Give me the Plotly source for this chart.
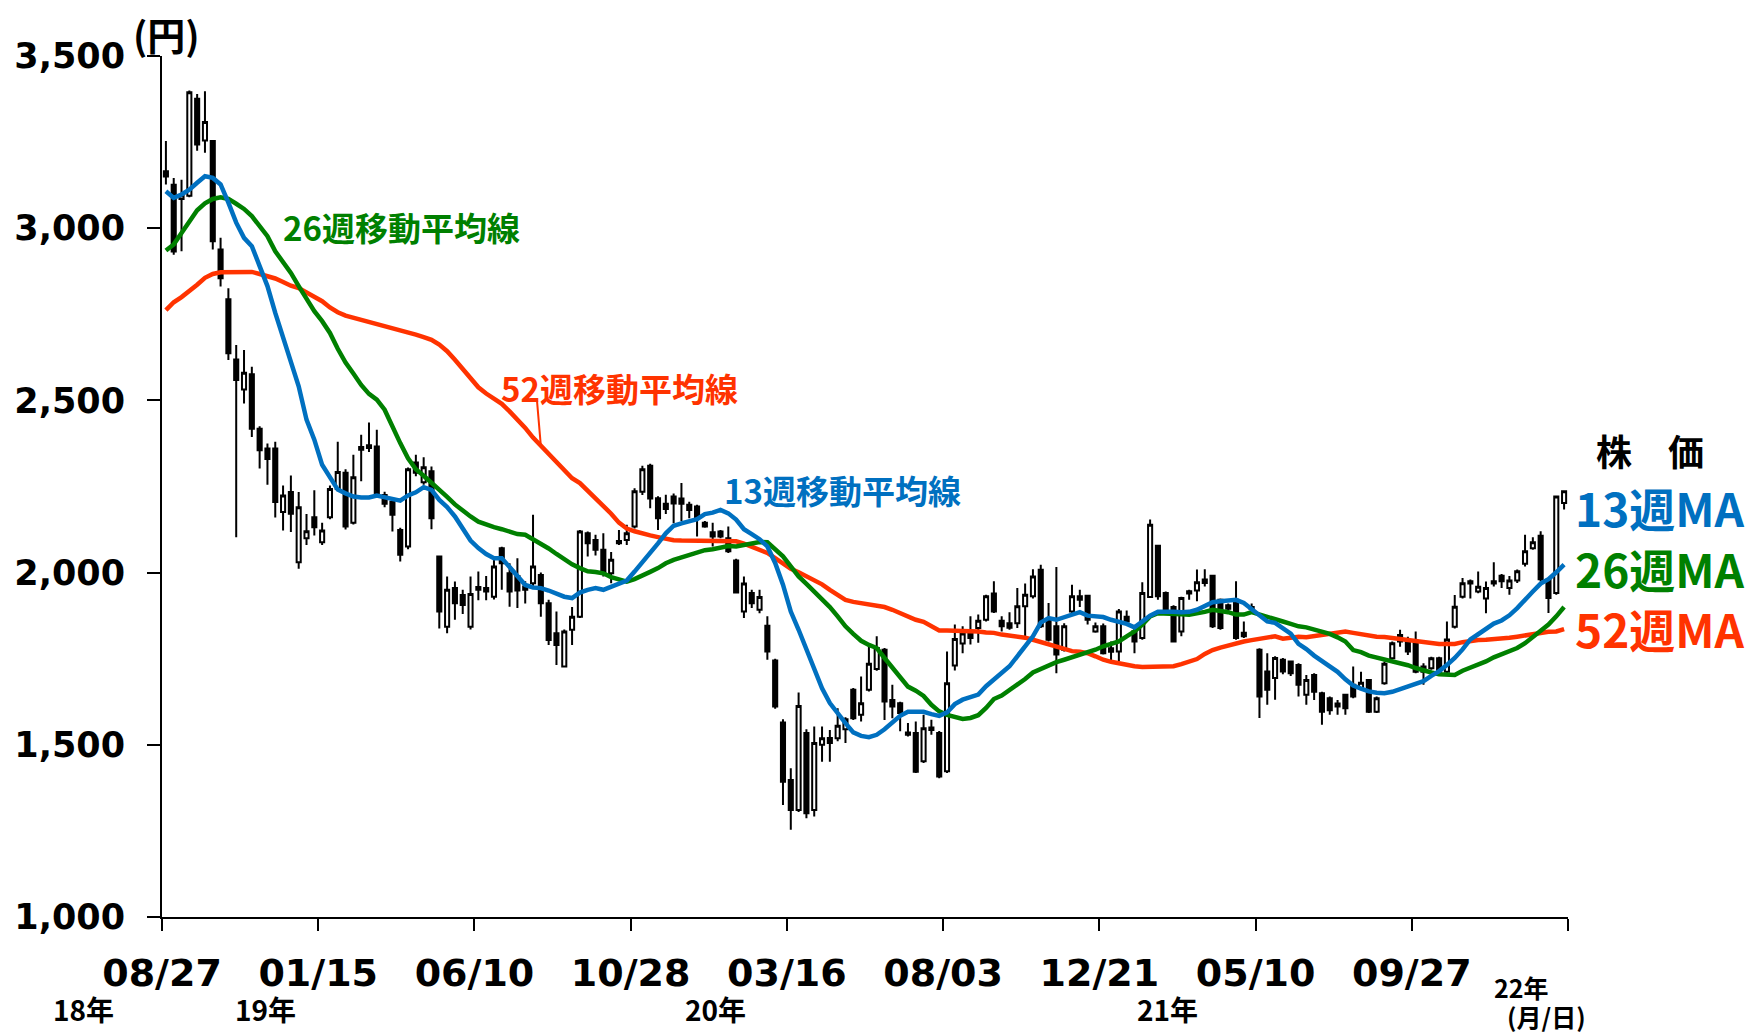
import plotly.graph_objects as go

# ---------------- data ----------------
tick_labels = ["08/27", "01/15", "06/10", "10/28", "03/16", "08/03", "12/21", "05/10", "09/27", ""]
y_ticks = [1000, 1500, 2000, 2500, 3000, 3500]

opens = [3165, 3126, 3085, 3094, 3376, 3255, 3253, 2938, 2794, 2619,
         2532, 2576, 2418, 2360, 2360, 2176, 2234, 2030, 2100, 2161,
         2088, 2161, 2243, 2290, 2145, 2365, 2370, 2366, 2225, 2206,
         2124, 2076, 2320, 2262, 2294, 2047, 1843, 1955, 1935, 1843,
         1958, 1955, 1930, 2071, 1998, 1990, 1960, 1969, 1993, 1911,
         1824, 1727, 1834, 1872, 2114, 2095, 2066, 1998, 2092, 2095,
         2134, 2235, 2310, 2216, 2200, 2221, 2215, 2197, 2192, 2145,
         2117, 2119, 2100, 2035, 1887, 1941, 1892, 1846, 1745, 1565,
         1398, 1311, 1534, 1311, 1500, 1520, 1519, 1545, 1660, 1587,
         1660, 1720, 1776, 1630, 1621, 1536, 1534, 1452, 1550, 1534,
         1423, 1730, 1794, 1828, 1839, 1863, 1939, 1860, 1853, 1853,
         1902, 1931, 2008, 1863, 1844, 1776, 1887, 1931, 1933, 1829,
         1844, 1780, 1771, 1872, 1830, 1810, 1929, 2078, 1941, 1900,
         1829, 1946, 1948, 1980, 1991, 1921, 1905, 1921, 1825, 1900,
         1776, 1713, 1694, 1747, 1742, 1732, 1645, 1703, 1650, 1635,
         1620, 1645, 1674, 1665, 1688, 1596, 1679, 1751, 1800, 1800,
         1795, 1727, 1722, 1751, 1712, 1843, 1930, 1975, 1945, 1925,
         1975, 1991, 1955, 1977, 2026, 2071, 2107, 1979, 1941, 2202]
highs = [3253, 3146, 3141, 3400, 3390, 3398, 3256, 2972, 2826, 2661,
         2646, 2598, 2425, 2375, 2380, 2253, 2282, 2234, 2170, 2239,
         2145, 2253, 2380, 2300, 2342, 2400, 2436, 2415, 2235, 2210,
         2130, 2305, 2342, 2335, 2308, 2050, 1989, 1974, 1950, 1989,
         2003, 1990, 2042, 2075, 2027, 2042, 1975, 2168, 2000, 1921,
         1887, 1835, 1900, 2124, 2119, 2110, 2114, 2060, 2124, 2139,
         2245, 2310, 2316, 2222, 2226, 2230, 2260, 2206, 2197, 2150,
         2145, 2124, 2134, 2040, 1989, 1950, 1950, 1873, 1750, 1574,
         1432, 1652, 1545, 1553, 1553, 1543, 1606, 1580, 1665, 1698,
         1786, 1815, 1781, 1674, 1625, 1563, 1568, 1587, 1573, 1540,
         1771, 1849, 1844, 1873, 1878, 1936, 1975, 1873, 1885, 1955,
         1968, 2010, 2023, 1912, 2016, 1853, 1965, 1950, 1935, 1855,
         1852, 1800, 1894, 1890, 1840, 1972, 2154, 2081, 1945, 1905,
         1930, 1950, 2009, 2010, 1994, 1925, 1910, 1975, 1858, 1910,
         1780, 1766, 1757, 1752, 1745, 1737, 1703, 1708, 1654, 1640,
         1630, 1648, 1727, 1712, 1690, 1640, 1742, 1800, 1834, 1814,
         1829, 1737, 1756, 1756, 1858, 1935, 1984, 1980, 2003, 1974,
         2030, 1996, 1990, 2009, 2110, 2103, 2120, 1984, 2223, 2239]
lows = [3127, 2923, 2933, 3090, 3225, 3219, 2938, 2831, 2617, 2103,
        2491, 2394, 2302, 2255, 2160, 2122, 2118, 2011, 2080, 2108,
        2080, 2155, 2238, 2125, 2140, 2265, 2350, 2225, 2190, 2119,
        2032, 2068, 2280, 2255, 2126, 1838, 1824, 1863, 1880, 1835,
        1920, 1920, 1922, 1950, 1901, 1897, 1910, 1960, 1872, 1790,
        1732, 1725, 1790, 1868, 2047, 2050, 1989, 1969, 2080, 2080,
        2128, 2225, 2187, 2124, 2170, 2143, 2150, 2158, 2105, 2130,
        2076, 2100, 2057, 1940, 1868, 1897, 1882, 1747, 1605, 1325,
        1253, 1305, 1287, 1292, 1451, 1451, 1510, 1505, 1572, 1568,
        1655, 1715, 1572, 1577, 1539, 1524, 1418, 1447, 1529, 1403,
        1418, 1716, 1766, 1791, 1796, 1858, 1883, 1829, 1834, 1839,
        1815, 1925, 1839, 1800, 1708, 1771, 1883, 1900, 1849, 1825,
        1762, 1745, 1742, 1850, 1766, 1805, 1926, 1921, 1887, 1798,
        1815, 1921, 1917, 1960, 1839, 1834, 1880, 1805, 1810, 1890,
        1578, 1616, 1631, 1705, 1700, 1640, 1616, 1630, 1558, 1587,
        1587, 1587, 1635, 1660, 1592, 1592, 1674, 1748, 1785, 1761,
        1708, 1674, 1718, 1708, 1708, 1838, 1925, 1925, 1940, 1882,
        1960, 1955, 1936, 1970, 2018, 2066, 1974, 1883, 1936, 2183]
closes = [3150, 2932, 3095, 3395, 3243, 3308, 2962, 2855, 2637, 2559,
          2580, 2418, 2355, 2330, 2205, 2224, 2171, 2190, 2120, 2132,
          2122, 2243, 2292, 2134, 2277, 2357, 2362, 2231, 2200, 2168,
          2052, 2300, 2290, 2306, 2158, 1887, 1950, 1911, 1906, 1938,
          1950, 1945, 2018, 2027, 1945, 1948, 1950, 2018, 1911, 1804,
          1790, 1829, 1872, 2119, 2085, 2066, 1998, 2037, 2085, 2114,
          2236, 2300, 2215, 2158, 2185, 2201, 2200, 2182, 2158, 2134,
          2105, 2105, 2062, 1942, 1968, 1911, 1929, 1771, 1611, 1393,
          1311, 1613, 1301, 1505, 1519, 1505, 1555, 1574, 1577, 1621,
          1735, 1781, 1626, 1611, 1592, 1529, 1422, 1548, 1543, 1408,
          1679, 1807, 1823, 1810, 1860, 1931, 1887, 1844, 1840, 1902,
          1936, 1989, 1844, 1805, 1762, 1844, 1931, 1921, 1863, 1844,
          1766, 1770, 1887, 1858, 1800, 1941, 2139, 1931, 1892, 1800,
          1926, 1939, 1972, 1970, 1844, 1839, 1895, 1810, 1815, 1895,
          1640, 1660, 1752, 1713, 1708, 1674, 1688, 1654, 1596, 1600,
          1611, 1606, 1640, 1680, 1596, 1635, 1735, 1795, 1819, 1771,
          1712, 1712, 1751, 1712, 1806, 1901, 1969, 1968, 1959, 1955,
          1968, 1975, 1977, 2004, 2062, 2088, 1981, 1926, 2221, 2236]

ma13 = [3107, 3088, 3098, 3112, 3132, 3151, 3146, 3127, 3074, 3016,
        2972, 2948, 2890, 2832, 2754, 2686, 2609, 2541, 2444, 2386,
        2313, 2275, 2241, 2230, 2221, 2218, 2218, 2224, 2219, 2216,
        2209, 2224, 2233, 2248, 2240, 2211, 2190, 2163, 2129, 2093,
        2071, 2054, 2042, 2042, 2016, 1989, 1964, 1957, 1955, 1948,
        1938, 1930, 1926, 1942, 1950, 1955, 1950, 1959, 1971, 1977,
        2003, 2029, 2056, 2085, 2114, 2136, 2143, 2148, 2155, 2170,
        2174, 2182, 2172, 2154, 2126, 2112, 2097, 2076, 2028, 1965,
        1887, 1834, 1776, 1718, 1664, 1621, 1590, 1563, 1536, 1526,
        1522, 1529, 1545, 1565, 1584, 1596, 1595, 1596, 1589, 1584,
        1594, 1618, 1631, 1639, 1646, 1670, 1689, 1708, 1728, 1757,
        1786, 1815, 1855, 1868, 1863, 1871, 1878, 1885, 1875, 1873,
        1871, 1863, 1858, 1851, 1841, 1858, 1875, 1886, 1887, 1886,
        1885, 1886, 1892, 1902, 1914, 1917, 1920, 1921, 1912, 1894,
        1873, 1858, 1854, 1839, 1823, 1793, 1778, 1759, 1744, 1729,
        1712, 1690, 1672, 1663, 1655, 1651, 1650, 1654, 1661, 1669,
        1676, 1685, 1700, 1714, 1732, 1752, 1777, 1806, 1821, 1837,
        1852, 1861, 1876, 1897, 1923, 1945, 1968, 1981, 2001, 2023]
ma26 = [2935, 2953, 2986, 3020, 3052, 3072, 3085, 3090, 3085, 3071,
        3056, 3035, 3006, 2977, 2933, 2904, 2870, 2832, 2793, 2759,
        2730, 2696, 2650, 2610, 2578, 2545, 2519, 2502, 2473, 2422,
        2376, 2332, 2300, 2281, 2262, 2243, 2220, 2198, 2179, 2163,
        2148, 2139, 2132, 2126, 2119, 2112, 2110, 2097, 2083, 2070,
        2054, 2039, 2024, 2013, 2004, 2002, 1998, 1987, 1979, 1974,
        1981, 1993, 2002, 2013, 2027, 2037, 2044, 2050, 2056, 2065,
        2068, 2072, 2077, 2076, 2081, 2086, 2089, 2088, 2068, 2047,
        2018, 1989, 1967, 1945, 1921, 1900, 1873, 1844, 1822, 1802,
        1790, 1781, 1752, 1723, 1696, 1669, 1657, 1642, 1616, 1597,
        1587, 1580, 1575, 1578, 1586, 1607, 1633, 1643, 1658, 1674,
        1691, 1710, 1720, 1732, 1740, 1747, 1754, 1760, 1766, 1776,
        1786, 1794, 1800, 1815, 1829, 1849, 1873, 1882, 1882, 1880,
        1879, 1878, 1881, 1886, 1892, 1889, 1885, 1878, 1878, 1885,
        1879, 1871, 1865, 1858, 1851, 1844, 1841, 1835, 1831, 1822,
        1812, 1800, 1775, 1769, 1759, 1754, 1748, 1742, 1737, 1731,
        1723, 1715, 1710, 1705, 1703, 1703, 1715, 1723, 1731, 1742,
        1754, 1763, 1772, 1781, 1795, 1812, 1829, 1849, 1873, 1900]
ma52 = [2762, 2785, 2800, 2817, 2836, 2856, 2867, 2872, 2873, 2873,
        2873, 2873, 2867, 2861, 2854, 2844, 2833, 2826, 2814, 2802,
        2788, 2770, 2756, 2746, 2740, 2735, 2730, 2724, 2718, 2712,
        2705, 2698, 2691, 2684, 2676, 2662, 2643, 2618, 2590, 2565,
        2538, 2520, 2505, 2490, 2468, 2445, 2420, 2392, 2368, 2342,
        2320, 2298, 2274, 2260, 2238, 2213, 2192, 2171, 2145, 2128,
        2120, 2113, 2108, 2103, 2097, 2094, 2093, 2093, 2093, 2093,
        2093, 2093, 2093, 2091, 2084, 2076, 2068, 2057, 2042, 2028,
        2011, 2001, 1989, 1977, 1966, 1950, 1936, 1921, 1915, 1912,
        1909, 1904, 1900, 1892, 1882, 1870, 1863, 1857, 1846, 1832,
        1832, 1832, 1832, 1831, 1829, 1826, 1825, 1820, 1818, 1815,
        1811, 1805, 1799, 1793, 1784, 1778, 1772, 1770, 1766, 1757,
        1747, 1741, 1736, 1732, 1728, 1726, 1726, 1726, 1726, 1728,
        1734, 1740, 1749, 1764, 1775, 1782, 1788, 1796, 1800, 1804,
        1808, 1813, 1815, 1808, 1810, 1814, 1812, 1816, 1819, 1823,
        1826, 1829, 1825, 1821, 1817, 1814, 1813, 1810, 1806, 1804,
        1803, 1797, 1795, 1793, 1793, 1793, 1798, 1802, 1804, 1805,
        1806, 1807, 1811, 1814, 1818, 1822, 1825, 1828, 1829, 1836]

# ---------------- styling ----------------
BLUE = "#0070C0"
GREEN = "#008000"
RED = "#FF3300"
JP = "Noto Sans CJK JP"
NUM = "DejaVu Sans"

W, H = 1760, 1034
L, R, T, B = 162, 192, 56, 117
PW, PH = W - L - R, H - T - B


def px(x):
    return (x - L) / PW


def py(y):
    return (H - B - y) / PH


n = len(closes)
xs = [i + 0.5 for i in range(n)]

fig = go.Figure()
fig.add_trace(go.Candlestick(
    x=xs, open=opens, high=highs, low=lows, close=closes,
    increasing=dict(line=dict(color="black", width=2), fillcolor="white"),
    decreasing=dict(line=dict(color="black", width=2), fillcolor="black"),
    whiskerwidth=0, hoverinfo="skip", showlegend=False,
))
for ma, col in ((ma52, RED), (ma26, GREEN), (ma13, BLUE)):
    fig.add_trace(go.Scatter(x=xs, y=ma, mode="lines",
                             line=dict(color=col, width=4.5),
                             hoverinfo="skip", showlegend=False))

ann = []


def text(x, y, s, size, color, family=JP, xanchor="center"):
    ann.append(dict(x=px(x), y=py(y), xref="paper", yref="paper", text="<b>%s</b>" % s,
                    showarrow=False, xanchor=xanchor, yanchor="middle",
                    font=dict(family=family, size=size, color=color)))


text(166, 34, "(円)", 38, "black")
text(281, 227, "26週移動平均線", 33, GREEN, xanchor="left")
text(499, 388, "52週移動平均線", 33, RED, xanchor="left")
text(722, 490, "13週移動平均線", 33, BLUE, xanchor="left")
text(1650, 450, "株\u3000価", 36, "black")
text(1573, 507, "13週MA", 46, BLUE, xanchor="left")
text(1573, 568, "26週MA", 46, GREEN, xanchor="left")
text(1573, 628, "52週MA", 46, RED, xanchor="left")
text(83, 1009, "18年", 28, "black")
text(265, 1009, "19年", 28, "black")
text(715, 1009, "20年", 28, "black")
text(1167, 1009, "21年", 28, "black")
text(1521, 987, "22年", 25, "black")
text(1546, 1016, "(月/日)", 25, "black")

# pointer from the 52-week label to its line
ann.append(dict(x=xs[48], y=ma52[48], xref="x", yref="y", text="", showarrow=True,
                arrowhead=0, arrowwidth=2, arrowcolor=RED, ax=-4, ay=-47))

fig.update_layout(
    width=W, height=H, autosize=False,
    margin=dict(l=L, r=R, t=T, b=B, pad=0),
    paper_bgcolor="white", plot_bgcolor="white",
    boxgap=0.25,
    annotations=ann,
    xaxis=dict(range=[0, n], tickmode="array", tickvals=list(range(0, n + 1, 20)),
               ticktext=tick_labels, showgrid=False, zeroline=False, automargin=False,
               showline=True, linecolor="black", linewidth=2,
               ticks="outside", ticklen=12, tickwidth=2, tickcolor="black",
               tickfont=dict(family=NUM, size=38, color="black", weight="bold"),
               ticklabelstandoff=9, rangeslider=dict(visible=False), fixedrange=True),
    yaxis=dict(range=[1000, 3500], tickmode="array", tickvals=y_ticks,
               tickformat=",d", showgrid=False, zeroline=False, automargin=False,
               showline=True, linecolor="black", linewidth=2,
               ticks="outside", ticklen=13, tickwidth=2, tickcolor="black",
               tickfont=dict(family=NUM, size=35, color="black", weight="bold"),
               ticklabelstandoff=15, fixedrange=True),
)

fig.write_html("out.html", config={"displayModeBar": False, "staticPlot": True},
               post_script="document.body.style.margin='0';")
